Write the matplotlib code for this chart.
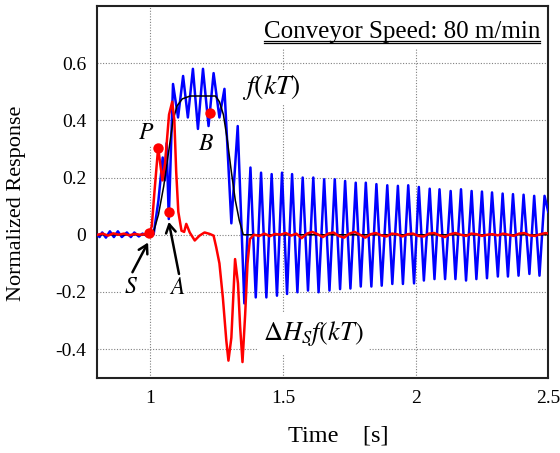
import matplotlib
matplotlib.use('Agg')
import matplotlib.pyplot as plt
from matplotlib.lines import Line2D
from matplotlib.patches import Rectangle

# ---------------- data ----------------
blue_t = [0.800, 0.808, 0.818, 0.832, 0.847, 0.862, 0.877, 0.892, 0.911, 0.926,
          0.939, 0.956, 0.970, 0.985, 1.000, 1.012, 1.030, 1.046, 1.054, 1.061,
          1.069, 1.085, 1.104, 1.123, 1.141, 1.160, 1.179, 1.198, 1.219, 1.238,
          1.260, 1.279, 1.305, 1.329, 1.354, 1.377, 1.397, 1.417, 1.437, 1.457,
          1.477, 1.496, 1.515, 1.534, 1.554, 1.574, 1.594, 1.614, 1.634, 1.655,
          1.675, 1.695, 1.715, 1.734, 1.754, 1.774, 1.793, 1.812, 1.833, 1.852,
          1.872, 1.893, 1.912, 1.933, 1.952, 1.972, 1.994, 2.012, 2.031, 2.053,
          2.071, 2.090, 2.111, 2.132, 2.150, 2.171, 2.190, 2.211, 2.229, 2.250,
          2.269, 2.288, 2.310, 2.328, 2.348, 2.367, 2.388, 2.407, 2.429, 2.447,
          2.467, 2.486, 2.500]
blue_y = [0.000, -0.008, 0.008, -0.010, 0.012, -0.008, 0.012, -0.008, 0.008, -0.008,
          0.008, -0.006, 0.004, -0.003, 0.000, 0.002, 0.120, 0.270, 0.190, 0.320,
          0.055, 0.527, 0.410, 0.555, 0.410, 0.580, 0.370, 0.580, 0.380, 0.565,
          0.410, 0.510, 0.040, 0.380, -0.240, 0.235, -0.219, 0.217, -0.219, 0.212,
          -0.213, 0.217, -0.207, 0.212, -0.201, 0.200, -0.195, 0.200, -0.201, 0.194,
          -0.195, 0.194, -0.190, 0.188, -0.188, 0.182, -0.181, 0.182, -0.181, 0.177,
          -0.178, 0.173, -0.172, 0.171, -0.172, 0.173, -0.170, 0.167, -0.160, 0.161,
          -0.155, 0.159, -0.155, 0.153, -0.155, 0.159, -0.160, 0.153, -0.155, 0.151,
          -0.152, 0.148, -0.146, 0.144, -0.146, 0.142, -0.143, 0.140, -0.137, 0.136,
          -0.143, 0.136, 0.080]

black_t = [0.800, 1.000, 1.010, 1.030, 1.050, 1.070, 1.085, 1.100, 1.120, 1.150,
           1.200, 1.245, 1.260, 1.275, 1.290, 1.305, 1.320, 1.335, 1.350, 2.500]
black_y = [0.000, 0.000, 0.005, 0.070, 0.170, 0.300, 0.400, 0.450, 0.475, 0.485,
           0.485, 0.485, 0.465, 0.420, 0.330, 0.220, 0.120, 0.050, 0.000, 0.000]

red_t = [0.800, 0.820, 0.840, 0.860, 0.880, 0.900, 0.920, 0.940, 0.960, 0.980,
         0.995, 1.005, 1.015, 1.029, 1.038, 1.045, 1.055, 1.070, 1.082, 1.090,
         1.097, 1.105, 1.117, 1.127, 1.135, 1.148, 1.167, 1.185, 1.204, 1.223,
         1.238, 1.248, 1.260, 1.273, 1.286, 1.294, 1.305, 1.319, 1.330, 1.338,
         1.347, 1.357, 1.366, 1.375, 1.390,
         1.41, 1.43, 1.45, 1.47, 1.49, 1.51, 1.53, 1.55, 1.57, 1.59,
         1.61, 1.63, 1.65, 1.67, 1.69, 1.71, 1.73, 1.75, 1.77, 1.79,
         1.81, 1.83, 1.85, 1.87, 1.89, 1.91, 1.93, 1.95, 1.97, 1.99,
         2.01, 2.03, 2.05, 2.07, 2.09, 2.11, 2.13, 2.15, 2.17, 2.19,
         2.21, 2.23, 2.25, 2.27, 2.29, 2.31, 2.33, 2.35, 2.37, 2.39,
         2.41, 2.43, 2.45, 2.47, 2.49, 2.50]
red_y = [0.000, 0.004, -0.003, 0.005, 0.000, 0.004, -0.002, 0.003, 0.000, 0.002,
         0.005, 0.030, 0.150, 0.305, 0.240, 0.190, 0.250, 0.420, 0.465, 0.400,
         0.220, 0.080, 0.014, 0.010, 0.038, 0.008, -0.020, -0.003, 0.008, 0.003,
         -0.003, -0.044, -0.100, -0.220, -0.370, -0.440, -0.360, -0.085, -0.170, -0.320,
         -0.445, -0.280, -0.100, -0.015, 0.000,
         -0.004, 0.004, -0.005, 0.003, 0.000, 0.006, -0.003, 0.004, -0.012, 0.004,
         0.010, 0.002, -0.008, 0.004, 0.008, -0.004, -0.010, 0.004, 0.010, 0.000,
         -0.010, 0.002, 0.006, -0.002, -0.006, 0.004, 0.002, -0.006, 0.002, 0.004,
         -0.004, -0.006, 0.004, 0.006, -0.002, -0.008, 0.002, 0.006, 0.000, -0.004,
         0.004, 0.002, -0.004, 0.000, 0.002, -0.002, 0.004, 0.000, -0.004, 0.004,
         0.006, -0.002, -0.004, 0.002, 0.006, 0.004]

point_names = ['S', 'P', 'A', 'B']
point_t = [0.995, 1.029, 1.069, 1.225]
point_y = [0.005, 0.305, 0.081, 0.427]

xticks = [1.0, 1.5, 2.0, 2.5]
xtick_labels = ['1', '1.5', '2', '2.5']
yticks = [0.6, 0.4, 0.2, 0.0, -0.2, -0.4]
ytick_labels = ['0.6', '0.4', '0.2', '0', '-0.2', '-0.4']

title_text = 'Conveyor Speed: 80 m/min'
xlabel_text = 'Time    [s]'
ylabel_text = 'Normalized Response'

# ---------------- figure ----------------
plt.rcParams['font.family'] = ['Liberation Serif', 'DejaVu Serif']
plt.rcParams['mathtext.fontset'] = 'stix'

fig = plt.figure(figsize=(5.6, 4.53), dpi=100)
ax = fig.add_axes([0.174, 0.166, 0.805, 0.821])
ax.set_axisbelow(True)

ax.plot(blue_t, blue_y, color='#0000ff', lw=1.8, zorder=3)
ax.plot(black_t, black_y, color='black', lw=1.1, zorder=4)
ax.plot(red_t, red_y, color='#ff0000', lw=1.8, zorder=5)
ax.plot(point_t, point_y, 'o', color='#ff0000', ms=7.5, mec='none', zorder=6)

ax.set_xlim(0.8, 2.5)
ax.set_ylim(-0.5, 0.8)
ax.set_xticks(xticks)
ax.set_xticklabels(xtick_labels)
ax.set_yticks(yticks)
ax.set_yticklabels(ytick_labels)
ax.tick_params(length=0, labelsize=14)
ax.tick_params(axis='x', pad=9)
ax.tick_params(axis='y', pad=8)
ax.grid(True, linestyle=(0, (1, 1.5)), color='#808080', lw=0.8)
for s in ax.spines.values():
    s.set_color('#222222')
    s.set_linewidth(1.5)

ax.set_xlabel(xlabel_text, fontsize=17.5)
ax.set_ylabel(ylabel_text, fontsize=16)
ax.xaxis.set_label_coords(0.534, -0.128)
ax.yaxis.set_label_coords(-0.158, 0.47)

# title box (white, hides grid) and double underline
ax.add_patch(Rectangle((0.33, 0.885), 0.67, 0.115, transform=ax.transAxes,
                       facecolor='white', edgecolor='none', zorder=1))
ttl = ax.text(0.982, 0.913, title_text, transform=ax.transAxes, ha='right',
              va='baseline', fontsize=18, zorder=7)

wb = dict(facecolor='white', edgecolor='none', pad=1.5)
ax.text(0.985, 0.353, '$P$', fontsize=17, ha='center', va='center', zorder=2, bbox=wb)
ax.text(1.2105, 0.314, '$B$', fontsize=17, ha='center', va='center', zorder=7)
ax.text(0.926, -0.186, '$S$', fontsize=17, ha='center', va='center', zorder=2, bbox=wb)
ax.text(1.100, -0.189, '$A$', fontsize=17, ha='center', va='center', zorder=2, bbox=wb)
ax.text(1.455, 0.516, '$f(kT)$', fontsize=20, ha='center', va='center', zorder=2, bbox=wb)
ax.text(1.612, -0.345, r'$\Delta H_S f(kT)$', fontsize=19, ha='center', va='center',
        zorder=2, bbox=dict(facecolor='white', edgecolor='none', pad=4))

arrow = dict(arrowstyle='->,head_length=0.6,head_width=0.35', color='black', lw=1.8,
             shrinkA=0, shrinkB=0)
ax.annotate('', xy=(0.991, -0.027), xytext=(0.932, -0.131), arrowprops=arrow, zorder=8)
ax.annotate('', xy=(1.069, 0.045), xytext=(1.1075, -0.137), arrowprops=arrow, zorder=8)

fig.canvas.draw()
bb = ttl.get_window_extent().transformed(ax.transAxes.inverted())
for yy in (0.900, 0.906):
    ax.add_line(Line2D([bb.x0, bb.x1], [yy, yy], transform=ax.transAxes,
                       color='black', lw=0.9, zorder=7))

fig.savefig('out.png', dpi=100)
